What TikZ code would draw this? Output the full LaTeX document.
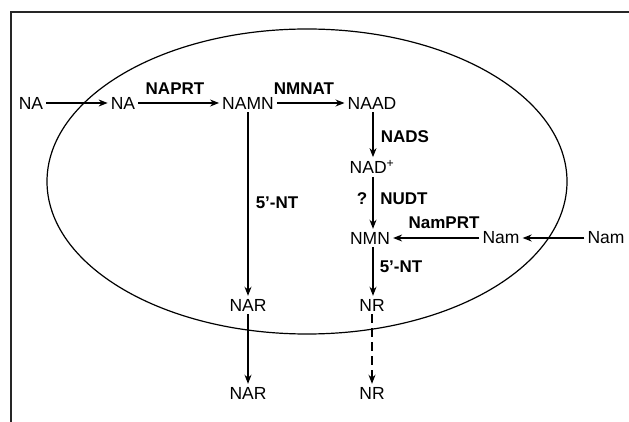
\documentclass[tikz,border=0pt]{standalone}
\usepackage{fontspec}
\setmainfont{Liberation Sans}
\usetikzlibrary{arrows.meta}
\begin{document}
\begin{tikzpicture}[x=1pt,y=-1pt,
  met/.style={inner sep=3pt, font=\fontsize{17.5}{19}\selectfont},
  enz/.style={inner sep=0pt, font=\fontsize{17}{19}\selectfont\bfseries},
  rx/.style={line width=1.1pt, -{Stealth[length=9pt,width=7pt]}},
  frame/.style={line width=1.8pt, draw=black!85}]
\useasboundingbox (0,0) rectangle (629,422);
\draw[frame] (11,422) -- (11,12) -- (629,12);
\draw[line width=1.2pt] (307,181.5) ellipse [x radius=260pt, y radius=152.5pt];
% metabolites
\node[met] (na0) at (31,103) {NA};
\node[met] (na1) at (123,103) {NA};
\node[met] (namn) at (248,103) {NAMN};
\node[met] (naad) at (372,103) {NAAD};
\node[met] (nad) at (372,167) {NAD\textsuperscript{+}};
\node[met] (nmn) at (370,238) {NMN};
\node[met] (nam1) at (501,238) {Nam};
\node[met] (nam0) at (606,238) {Nam};
\node[met] (nar1) at (248,305) {NAR};
\node[met] (nr1) at (372,305) {NR};
\node[met] (nar0) at (248,393) {NAR};
\node[met] (nr0) at (372,393) {NR};
% enzymes
\node[enz] (naprt) at (175,89) {NAPRT};
\node[enz] (nmnat) at (304,89) {NMNAT};
\node[enz] (nads) at (405,137) {NADS};
\node[enz] (q) at (362,199) {?};
\node[enz] (nudt) at (404,199) {NUDT};
\node[enz] (namprt) at (444,223) {NamPRT};
\node[enz] (nt1) at (277,203) {5'-NT};
\node[enz] (nt2) at (401,267) {5'-NT};
% reactions
\draw[rx] (na0) -- (na1);
\draw[rx] (na1) -- (namn);
\draw[rx] (namn) -- (naad);
\draw[rx] (naad.south -| 373,0) -- (nad.north -| 373,0);
\draw[rx] (nad.south -| 373,0) -- (nmn.north -| 373,0);
\draw[rx] (nam0) -- (nam1);
\draw[rx] (nam1) -- (nmn);
\draw[rx] (namn.south) -- (nar1.north);
\draw[rx] (nmn.south -| 373,0) -- (nr1.north -| 373,0);
\draw[rx] (nar1) -- (nar0);
\draw[rx, dash pattern=on 9pt off 5pt] (nr1) -- (nr0);
\end{tikzpicture}
\end{document}
